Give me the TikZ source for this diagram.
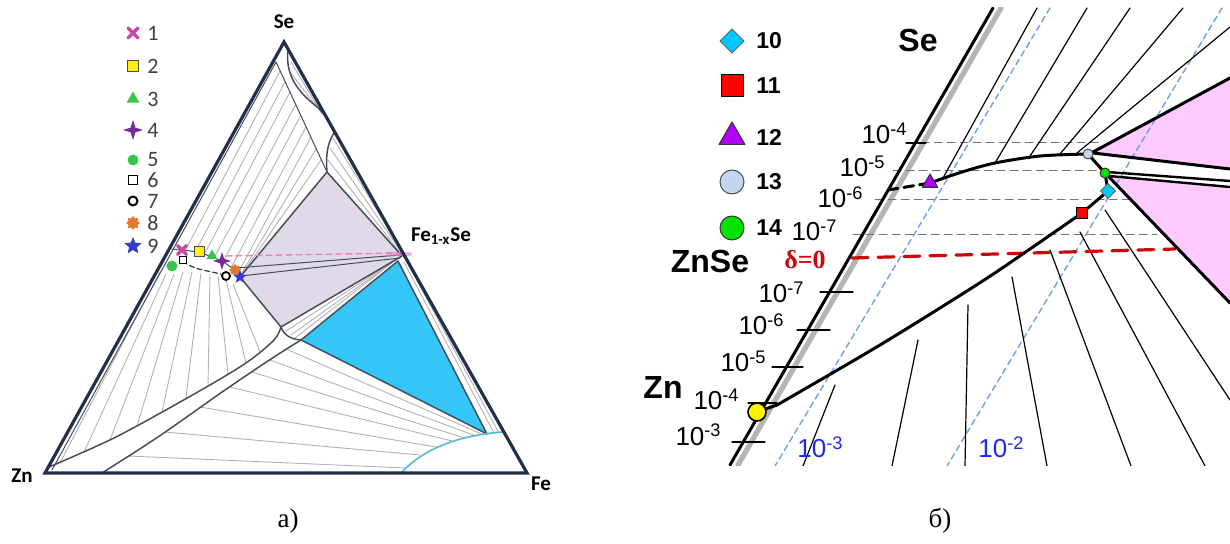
\documentclass[tikz,border=0pt]{standalone}
\usepackage{fontspec}
\setmainfont{Liberation Serif}
\setsansfont{Liberation Sans}
\newfontfamily\calibfont{Carlito}
\usepackage{tikz}
\usetikzlibrary{positioning, shapes.geometric, shapes.misc}
\definecolor{pd-navy}{RGB}{32,48,72}
\definecolor{pd-line}{RGB}{70,78,92}
\definecolor{pd-tie}{RGB}{178,178,182}
\definecolor{pd-lav}{RGB}{224,218,232}
\definecolor{pd-cyan}{RGB}{52,198,246}
\definecolor{pd-arc}{RGB}{86,184,214}
\definecolor{pd-pinkdash}{RGB}{232,130,196}
\definecolor{pd-mag}{RGB}{204,72,160}
\definecolor{pd-yel}{RGB}{255,238,20}
\definecolor{pd-grn}{RGB}{58,196,78}
\definecolor{pd-pur}{RGB}{118,40,150}
\definecolor{pd-org}{RGB}{228,120,48}
\definecolor{pd-blu}{RGB}{52,62,196}
\definecolor{pd-pink}{RGB}{255,202,255}
\definecolor{pd-red}{RGB}{200,10,10}
\definecolor{pd-iso}{RGB}{112,160,228}
\definecolor{pd-isotxt}{RGB}{30,40,235}
\definecolor{pd-band}{RGB}{180,180,180}
\definecolor{pd-aqua}{RGB}{0,200,255}
\definecolor{pd-violet}{RGB}{180,0,255}
\definecolor{pd-pale}{RGB}{196,214,238}
\definecolor{pd-lime}{RGB}{0,225,0}
\tikzset{
  ph@frame/.style={draw=pd-navy, line width=1.6pt, line join=miter},
  ph@bound/.style={draw=pd-line, line width=0.75pt},
  ph@thin/.style={draw=pd-line, line width=0.5pt},
  ph@tie/.style={draw=pd-tie, line width=0.45pt},
  ph@fan/.style={draw=black, line width=0.6pt},
  ph@thick/.style={draw=black, line width=1.5pt},
  ph@grid/.style={draw=black!55, line width=0.5pt, dash pattern=on 4pt off 2.5pt},
  ph@iso/.style={draw=pd-iso, line width=0.7pt, dash pattern=on 3pt off 2pt},
  ph@delta/.style={draw=pd-red, line width=1.6pt, dash pattern=on 8pt off 5pt},
  ph@tick/.style={draw=black, line width=0.6pt},
  mk@base/.style={inner sep=0pt, outer sep=0pt, line width=0.5pt},
  mk@cross/.style={mk@base, cross out, draw=pd-mag, line width=1.6pt, minimum size=#1},
  mk@square/.style={mk@base, rectangle, minimum size=#1},
  mk@tri/.style={mk@base, regular polygon, regular polygon sides=3, minimum size=#1},
  mk@circ/.style={mk@base, circle, minimum size=#1},
  mk@diam/.style={mk@base, diamond, minimum size=#1},
  mk@star/.style={mk@base, star, star points=5, star point ratio=2.2, minimum size=#1},
  mk@spark/.style={mk@base, star, star points=4, star point ratio=3, minimum size=#1},
  mk@gear/.style={mk@base, star, star points=8, star point ratio=1.4, minimum size=#1},
  ph@elem/.style={font=\calibfont\bfseries\fontsize{10.5}{12}\selectfont, inner sep=1pt},
  ph@keya/.style={font=\calibfont\fontsize{11}{12}\selectfont, text=black!75, inner sep=1pt},
  ph@big/.style={font=\sffamily\bfseries\fontsize{16}{18}\selectfont, inner sep=1pt},
  ph@keyb/.style={font=\sffamily\bfseries\fontsize{11.5}{13}\selectfont, inner sep=1pt},
  ph@val/.style={font=\sffamily\fontsize{13}{15}\selectfont, inner sep=0pt, anchor=base east},
  ph@isolbl/.style={font=\sffamily\fontsize{13}{15}\selectfont, text=pd-isotxt, inner sep=0pt, anchor=base west},
  ph@cap/.style={font=\fontsize{13.5}{15}\selectfont, inner sep=0pt},
}
\begin{document}
\begin{tikzpicture}[x=0.5pt, y=-0.5pt, line cap=round, line join=round]
  \useasboundingbox (0,0) rectangle (1230,544);
  % ---------- a) ternary section ----------
  \coordinate (zn) at (45,473);
  \coordinate (fe) at (527,473);
  \coordinate (se) at (284,42);
  \coordinate (fex) at (402,256);
  \coordinate (lavT) at (327,172);
  \coordinate (lavL) at (240,277);
  \coordinate (lavB) at (281,327);
  \coordinate (bluT) at (398,261);
  \coordinate (bluL) at (301,340);
  \coordinate (bluB) at (487,434);
  \coordinate (inTop) at (276,62);
  \fill[pd-lav] (lavT) -- (fex) -- (lavB) -- (lavL) -- cycle;
  \fill[pd-cyan] (bluT) -- (bluL) -- (bluB) -- cycle;
  % tie lines
  \foreach \xa/\ya/\xb/\yb in {185/251/280/71, 195/252/285/82, 205/253/290/92, 215/256/296/104, 224/260/301/115,
      232/266/306/127, 238/273/311/137, 240/276/316/149, 240/277/321/160}
    \draw[ph@tie] (\xa,\ya) -- (\xb,\yb);
  \foreach \xa/\ya/\xb/\yb in {160/272/60/463, 166/274/84/452, 174/274/110/440, 183/272/137/426, 192/272/162/412,
      201/273/186/398, 210/274/208/386, 218/276/228/374, 226/280/246/363, 233/284/260/352}
    \draw[ph@tie] (\xa,\ya) -- (\xb,\yb);
  \foreach \xa/\ya/\xb/\yb in {128/456/406/468, 165/432/420/455, 200/407/436/447, 230/387/452/441,
      252/372/465/438, 270/360/476/436, 286/349/484/435}
    \draw[ph@tie] (\xa,\ya) -- (\xb,\yb);
  \foreach \xa/\ya/\xb/\yb in {404/262/494/433, 407/262/499/433, 333/138/403/253, 330/148/402/253, 328/160/401/254,
      291/62/322/114, 290/72/316/106, 397/259/286/331, 397/259/291/335, 397/259/295/338}
    \draw[ph@tie] (\xa,\ya) -- (\xb,\yb);
  % phase boundaries
  \draw[ph@thin] (52,470) -- (inTop) -- (lavT);
  \draw[ph@bound] (288,50) .. controls (285,75) and (298,92) .. (316,106) .. controls (324,113) and (330,121) .. (333,130);
  \draw[ph@bound] (334,133) .. controls (326,145) and (326,160) .. (lavT);
  \draw[ph@bound] (lavT) -- (fex) -- (lavB) -- (lavL) -- cycle;
  \draw[ph@bound] (bluT) -- (bluL) -- (bluB) -- cycle;
  \draw[ph@bound] plot[smooth] coordinates {(49,467) (116,437) (196,393) (246,363) (274,340) (281,327)};
  \draw[ph@bound] plot[smooth] coordinates {(102,473) (158,437) (225,390) (274,357) (301,340)};
  \draw[ph@bound] (lavB) .. controls (284,335) and (290,339) .. (bluL);
  \draw[pd-arc, line width=0.8pt] (401,473) .. controls (425,447) and (462,435) .. (503,432);
  \draw[ph@thin] (236,268) -- (400,255);
  \draw[ph@thin] (241,276) -- (400,258);
  \draw[ph@thin] (172,249) -- (182,250) -- (199,252) -- (212,257) -- (222,261) -- (235,270) -- (lavL);
  \draw[pd-pinkdash, line width=0.7pt, dash pattern=on 3pt off 2pt] (226,256) -- (400,253);
  \draw[pd-pinkdash, line width=2pt, opacity=0.6] (388,254) -- (410,254);
  \draw[black!80, line width=0.6pt, dash pattern=on 2.5pt off 1.5pt] (183,261) .. controls (196,272) and (212,270) .. (226,276);
  \draw[ph@frame] (zn) -- (fe) -- (se) -- cycle;
  % data points
  \node[mk@circ=5.5pt, fill=pd-grn] (a5) at (172,266) {};
  \node[mk@cross=4.5pt] (a1) at (182,250) {};
  \node[mk@square=5pt, draw=black!70, fill=pd-yel] (a2) at (199,252) {};
  \node[mk@tri=6.5pt, fill=pd-grn] (a3) at (212,256) {};
  \node[mk@spark=9pt, fill=pd-pur] (a4) at (222,261) {};
  \node[mk@gear=6pt, fill=pd-org] (a8) at (235,270) {};
  \node[mk@star=7pt, fill=pd-blu] (a9) at (240,277) {};
  \node[mk@square=3.5pt, draw=black, fill=white, line width=0.6pt] (a6) at (183,260) {};
  \node[mk@circ=4pt, draw=black, fill=white, line width=0.9pt] (a7) at (226,276) {};
  % legend a)
  \node[mk@cross=5pt] (ka1) at (133,33) {};
  \node[mk@square=5.5pt, draw=black!70, fill=pd-yel] (ka2) at (133,66) {};
  \node[mk@tri=7.5pt, fill=pd-grn] (ka3) at (133,99) {};
  \node[mk@spark=10pt, fill=pd-pur] (ka4) at (133,130) {};
  \node[mk@circ=5.5pt, fill=pd-grn] (ka5) at (133,160) {};
  \node[mk@square=4.5pt, draw=black, fill=white, line width=0.9pt] (ka6) at (133,180) {};
  \node[mk@circ=4.5pt, draw=black, fill=white, line width=1pt] (ka7) at (133,201) {};
  \node[mk@gear=7pt, fill=pd-org] (ka8) at (133,223) {};
  \node[mk@star=9pt, fill=pd-blu] (ka9) at (133,246) {};
  \node[ph@keya, right=6pt of ka1.center] (na1) {1};
  \node[ph@keya, right=6pt of ka2.center] (na2) {2};
  \node[ph@keya, right=6pt of ka3.center] (na3) {3};
  \node[ph@keya, right=6pt of ka4.center] (na4) {4};
  \node[ph@keya, right=6pt of ka5.center] (na5) {5};
  \node[ph@keya, right=6pt of ka6.center] (na6) {6};
  \node[ph@keya, right=6pt of ka7.center] (na7) {7};
  \node[ph@keya, right=6pt of ka8.center] (na8) {8};
  \node[ph@keya, right=6pt of ka9.center] (na9) {9};
  \node[ph@elem] (seA) at (284,22) {Se};
  \node[ph@elem] (znA) at (22,476) {Zn};
  \node[ph@elem] (feA) at (541,484) {Fe};
  \node[ph@elem] (fexA) at (441,236) {Fe\textsubscript{1-x}Se};
  \node[ph@cap] (capA) at (288,521) {а)};
  % ---------- b) enlarged ZnSe corner ----------
  \coordinate (b13) at (1088,154);
  \coordinate (b14) at (1105,173);
  \coordinate (b10) at (1108,191);
  \coordinate (b11) at (1082,213);
  \coordinate (b12) at (930,183);
  \coordinate (bzn) at (757,412);
  \begin{scope}
    \clip (640,8) rectangle (1230,466);
    \fill[pd-pink] (1093,152) -- (1230,78) -- (1230,169) -- cycle;
    \fill[pd-pink] (1109,177) -- (1230,187) -- (1230,303) -- cycle;
    \draw[pd-band, line width=2.6pt] (738,465) -- (1001,8);
    \foreach \xa/\y/\xb in {908/143/1100, 893/171/1100, 875/200/1130, 853/235/1157}
      \draw[ph@grid] (\xa,\y) -- (\xb,\y);
    \draw[ph@iso] (1050,8) -- (775,466);
    \draw[ph@iso] (1222,8) -- (947,466);
    \foreach \xa/\ya/\xb/\yb in {1037/8/943/178, 1087/8/995/163, 1130/8/1030/156, 1183/8/1060/154, 1230/27/1077/153,
        835/385/803/466, 918/340/892/466, 968/305/965/466, 1012/277/1047/466, 1050/250/1131/466,
        1080/232/1205/466, 1105/210/1230/400}
      \draw[ph@fan] (\xa,\ya) -- (\xb,\yb);
    \draw[black, line width=1.5pt] (730,465) -- (993,8);
    \draw[ph@tick] (906,143) -- (926,143);
    \foreach \xa/\xb/\y in {820/853/292, 797/830/330, 772/803/367, 748/777/403, 732/765/442}
      \draw[ph@tick] (\xa,\y) -- (\xb,\y);
    \draw[ph@delta] (852,258) -- (1175,249);
    \draw[ph@thick, dash pattern=on 5pt off 3pt] (888,190) -- (b12);
    \draw[ph@thick] plot[smooth] coordinates {(930,183) (962,172) (995,163) (1040,156) (1088,154)};
    \draw[ph@thick] (1093,152) -- (1230,78);
    \draw[ph@thick] (1093,153) -- (1230,169);
    \draw[black, line width=1.2pt] (1107,172) -- (1230,181);
    \draw[black, line width=1.2pt] (1109,176) -- (1230,187);
    \draw[ph@thick] (1109,177) -- (1230,303);
    \draw[ph@thick] (b13) -- (b14) -- (b10) -- (b11);
    \draw[ph@thick] plot[smooth] coordinates {(1082,213) (1030,249) (978,284) (880,345) (777,405)} -- (bzn);
  \end{scope}
  \node[mk@tri=9pt, fill=pd-violet, draw=black!80] (m12) at (b12) {};
  \node[mk@circ=5pt, fill=pd-pale, draw=black!70] (m13) at (b13) {};
  \node[mk@circ=5pt, fill=pd-lime, draw=black!80] (m14) at (b14) {};
  \node[mk@diam=7.5pt, fill=pd-aqua, draw=black!60] (m10) at (b10) {};
  \node[mk@square=5.5pt, fill=red, draw=black] (m11) at (b11) {};
  \node[mk@circ=9pt, fill=yellow, draw=black, line width=0.8pt] (mzn) at (bzn) {};
  % legend b)
  \node[mk@diam=12pt, fill=pd-aqua, draw=black!60] (kb10) at (732,41) {};
  \node[mk@square=11pt, fill=red, draw=black] (kb11) at (732,86) {};
  \node[mk@tri=15pt, fill=pd-violet, draw=black!80] (kb12) at (732,137) {};
  \node[mk@circ=12pt, fill=pd-pale, draw=black!70] (kb13) at (732,182) {};
  \node[mk@circ=12pt, fill=pd-lime, draw=black!80] (kb14) at (732,228) {};
  \node[ph@keyb, right=11pt of kb10.center] (nb10) {10};
  \node[ph@keyb, right=11pt of kb11.center] (nb11) {11};
  \node[ph@keyb, right=11pt of kb12.center] (nb12) {12};
  \node[ph@keyb, right=11pt of kb13.center] (nb13) {13};
  \node[ph@keyb, right=11pt of kb14.center] (nb14) {14};
  \node[ph@big] (seB) at (918,40) {Se};
  \node[ph@big] (znseB) at (710,261) {ZnSe};
  \node[ph@big] (znB) at (663,387) {Zn};
  \node[font=\bfseries\fontsize{13}{15}\selectfont, text=pd-red, inner sep=1pt] (deltaB) at (805,260) {δ=0};
  \node[ph@val] (u4) at (908,144) {10\textsuperscript{-4}};
  \node[ph@val] (u5) at (886,177) {10\textsuperscript{-5}};
  \node[ph@val] (u6) at (864,208) {10\textsuperscript{-6}};
  \node[ph@val] (u7) at (838,241) {10\textsuperscript{-7}};
  \node[ph@val] (l7) at (805,303) {10\textsuperscript{-7}};
  \node[ph@val] (l6) at (785,335) {10\textsuperscript{-6}};
  \node[ph@val] (l5) at (767,372) {10\textsuperscript{-5}};
  \node[ph@val] (l4) at (740,410) {10\textsuperscript{-4}};
  \node[ph@val] (l3) at (722,445) {10\textsuperscript{-3}};
  \node[ph@isolbl] (i3) at (797,458) {10\textsuperscript{-3}};
  \node[ph@isolbl] (i2) at (978,458) {10\textsuperscript{-2}};
  \node[ph@cap] (capB) at (940,521) {б)};
\end{tikzpicture}
\end{document}
